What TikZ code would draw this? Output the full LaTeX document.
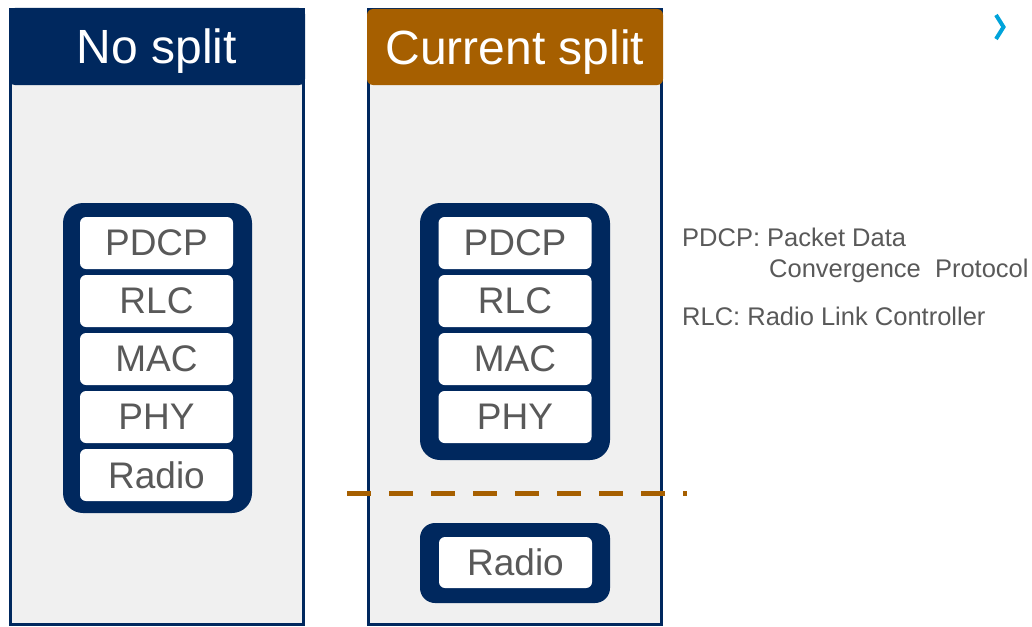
\documentclass[tikz,border=0pt]{standalone}
\usepackage{fontspec}
\setmainfont{Liberation Sans}
\usetikzlibrary{positioning}

\definecolor{navy}{RGB}{0,40,94}
\definecolor{splitbrown}{RGB}{166,95,0}
\definecolor{panelgray}{RGB}{240,240,240}
\definecolor{textgray}{RGB}{89,89,89}
\definecolor{arrowcyan}{RGB}{0,163,218}

\begin{document}
\begin{tikzpicture}
 [ x=1pt, y=-1pt
 , panel/.style={draw=navy, line width=3pt, fill=panelgray, minimum width=293pt, minimum height=615pt, inner sep=0pt}
 , header/.style={fill=navy, rounded corners=6pt, minimum width=296pt, minimum height=77pt, inner sep=0pt, text depth=0pt, text=white, font=\fontsize{48}{48}\selectfont}
 , stack/.style={fill=navy, rounded corners=20pt, minimum width=190pt, inner sep=0pt}
 , layer/.style={fill=white, rounded corners=6pt, minimum width=153pt, minimum height=52pt, inner sep=0pt, outer sep=0pt, text=textgray, font=\fontsize{37}{37}\selectfont}
 , legend/.style={anchor=base west, inner sep=0pt, text=textgray, font=\fontsize{25.5}{30}\selectfont}
 , cut/.style={draw=splitbrown, line width=5pt, dash pattern=on 24pt off 18pt}
 ]
  \useasboundingbox (0,0) rectangle (1032,626);

  % no split
  \node [panel] (noPanel) at (157,317) {};
  \node [header] (noHead) at (157,46.5) {No split};
  \node [stack, minimum width=189pt, minimum height=310pt] (noStack) at (157.5,358) {};
  \node [layer] (noPdcp) at (156.5,243) {PDCP};
  \node [layer, below=6pt of noPdcp] (noRlc) {RLC};
  \node [layer, below=6pt of noRlc] (noMac) {MAC};
  \node [layer, below=6pt of noMac] (noPhy) {PHY};
  \node [layer, below=6pt of noPhy] (noRadio) {Radio};

  % current split
  \node [panel] (curPanel) at (515,317) {};
  \node [header, fill=splitbrown, minimum height=76pt] (curHead) at (515,47) {Current split};
  \node [stack, minimum height=257pt] (curStack) at (515,331.5) {};
  \node [layer] (curPdcp) at (515,243) {PDCP};
  \node [layer, below=6pt of curPdcp] (curRlc) {RLC};
  \node [layer, below=6pt of curRlc] (curMac) {MAC};
  \node [layer, below=6pt of curMac] (curPhy) {PHY};
  \node [stack, rounded corners=15pt, minimum height=80pt] (radioStack) at (515,563) {};
  \node [layer, minimum height=51pt] (curRadio) at (515.5,562.5) {Radio};

  \coordinate (splitL) at (347,493);
  \coordinate (splitR) at (687,493);
  \draw [cut] (splitL) -- (splitR);

  % legend
  \node [legend] (pdcpDef) at (682,246) {PDCP:\ Packet Data};
  \node [legend] (pdcpMore) at (769,277) {Convergence\ \ Protocol};
  \node [legend] (rlcDef) at (682,325) {RLC:\ Radio Link Controller};

  \draw [arrowcyan, line width=4pt] (996,15) -- (1003.5,27) -- (996,39);
\end{tikzpicture}
\end{document}
